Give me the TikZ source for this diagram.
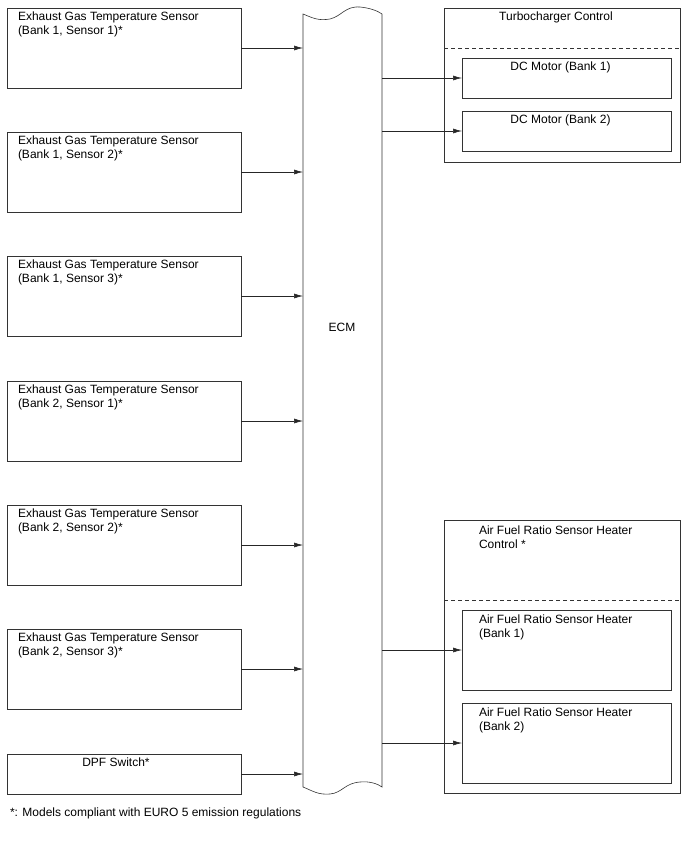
\documentclass[tikz,border=0pt]{standalone}
\usepackage{fontspec}
\setmainfont{Liberation Sans}
\usetikzlibrary{arrows.meta,calc}
\begin{document}
\begin{tikzpicture}[x=1bp,y=-1bp,
  line width=0.6bp,
  every node/.style={font=\fontsize{12bp}{13.5bp}\selectfont, inner sep=0pt, outer sep=0pt},
  box/.style={draw=black!80, rectangle, anchor=north west},
  arr/.style={draw=black!85, -{Latex[length=9bp,width=5bp]}},
  txt/.style={align=left, anchor=north west},
  ctxt/.style={align=center, anchor=north}
]
\useasboundingbox (0,0) rectangle (688,852);

% left sensor boxes
\foreach \n/\y/\a/\b in {s1/8/1/1, s2/132/1/2, s3/256/1/3, s4/381/2/1, s5/505/2/2, s6/629/2/3}{
  \node[box, minimum width=234bp, minimum height=80bp] (\n) at (7,\y) {};
  \node[txt] (\n t) at ($(\n.north west)+(11,4)$) {Exhaust Gas Temperature Sensor\\(Bank \a, Sensor \b)*};
}
\node[box, minimum width=234bp, minimum height=40bp] (dpf) at (7,754) {};
\node[ctxt] (dpft) at ($(dpf.north)+(-8,4)$) {DPF Switch*};

% ECM
\node[minimum width=79bp, minimum height=773bp, anchor=north west] (ecm) at (303,14) {};
\draw[black!80] (303,14) .. controls (313,18) and (318,21) .. (330,19)
  .. controls (342,16) and (345,6) .. (360,7) .. controls (370,8) and (378,11) .. (382,14)
  -- (382,787) .. controls (378,784) and (370,781) .. (360,782)
  .. controls (345,783) and (342,793) .. (330,794) .. controls (318,795) and (313,791) .. (303,787) -- cycle;
\node (ecmt) at (342,327) {ECM};

% turbocharger control
\node[box, minimum width=236bp, minimum height=154bp] (tc) at (444,8) {};
\node[ctxt] (tct) at ($(tc.north)+(-6,4)$) {Turbocharger Control};
\draw[dashed, black!80, dash pattern=on 4bp off 3bp] (tc.west |- 0,48) coordinate (tcdl) -- (tc.east |- 0,48) coordinate (tcdr);
\node[box, minimum width=209bp, minimum height=40bp] (dc1) at (462,58) {};
\node[ctxt] (dc1t) at ($(dc1.north)+(-6,4)$) {DC Motor (Bank 1)};
\node[box, minimum width=209bp, minimum height=40bp] (dc2) at (462,111) {};
\node[ctxt] (dc2t) at ($(dc2.north)+(-6,4)$) {DC Motor (Bank 2)};

% A/F heater control
\node[box, minimum width=236bp, minimum height=273bp] (af) at (444,520) {};
\node[txt] (aft) at ($(af.north west)+(35,6)$) {Air Fuel Ratio Sensor Heater\\Control *};
\draw[dashed, black!80, dash pattern=on 4bp off 3bp] (af.west |- 0,600) coordinate (afdl) -- (af.east |- 0,600) coordinate (afdr);
\node[box, minimum width=209bp, minimum height=80bp] (h1) at (462,610) {};
\node[txt] (h1t) at ($(h1.north west)+(17,5)$) {Air Fuel Ratio Sensor Heater\\(Bank 1)};
\node[box, minimum width=209bp, minimum height=80bp] (h2) at (462,703) {};
\node[txt] (h2t) at ($(h2.north west)+(17,5)$) {Air Fuel Ratio Sensor Heater\\(Bank 2)};

% arrows in
\foreach \n in {s1,s2,s3,s4,s5,s6,dpf}{
  \draw[arr] (\n.east) -- (\n.east -| ecm.west);
}
% arrows out
\draw[arr] (dc1.west -| ecm.east) -- (dc1.west);
\draw[arr] (dc2.west -| ecm.east) -- (dc2.west);
\draw[arr] (h1.west -| ecm.east) -- (h1.west);
\draw[arr] (h2.west -| ecm.east) -- (h2.west);

\node[txt] (note) at (10,808) {*: Models compliant with EURO 5 emission regulations};
\end{tikzpicture}
\end{document}
